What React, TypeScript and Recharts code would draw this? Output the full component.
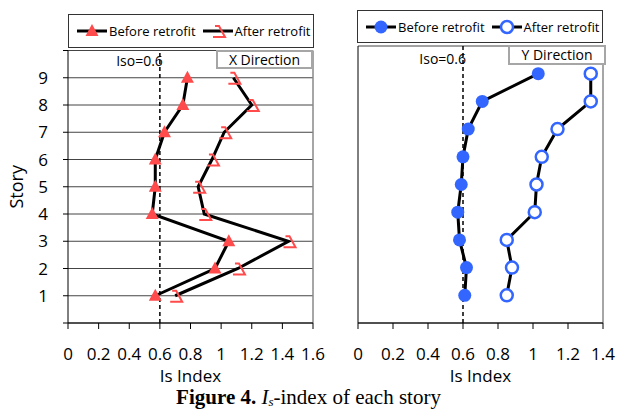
import React from "react";
import {
  LineChart,
  Line,
  XAxis,
  YAxis,
  CartesianGrid,
  ReferenceLine,
} from "recharts";

// stories 1..9 (bottom to top)
const STORIES = [1, 2, 3, 4, 5, 6, 7, 8, 9];

// X direction Is index
const X_BEFORE = [0.57, 0.96, 1.05, 0.55, 0.57, 0.57, 0.63, 0.75, 0.78];
const X_AFTER = [0.7, 1.11, 1.44, 0.89, 0.85, 0.94, 1.02, 1.2, 1.08];

// Y direction Is index
const Y_BEFORE = [0.61, 0.62, 0.58, 0.57, 0.59, 0.6, 0.63, 0.71, 1.03];
const Y_AFTER = [0.85, 0.88, 0.85, 1.01, 1.02, 1.05, 1.14, 1.33, 1.33];

const STORY_TICKS = [0, 1, 2, 3, 4, 5, 6, 7, 8, 9, 10];
const X_TICKS = [0, 0.2, 0.4, 0.6, 0.8, 1, 1.2, 1.4, 1.6];
const Y_DIR_TICKS = [0, 0.2, 0.4, 0.6, 0.8, 1, 1.2, 1.4];
const ISO = 0.6;

const RED = "#FF4B4B";
const BLUE = "#3366FF";
const FONT = "'Open Sans', sans-serif";

const xData = STORIES.map((s, i) => ({ story: s, before: X_BEFORE[i], after: X_AFTER[i] }));
const yData = STORIES.map((s, i) => ({ story: s, before: Y_BEFORE[i], after: Y_AFTER[i] }));

function FilledTri({ cx, cy }: { cx: number; cy: number }) {
  return (
    <path
      d={`M${cx},${cy - 7} L${cx + 6.5},${cy + 5} L${cx - 6.5},${cy + 5} Z`}
      fill={RED}
    />
  );
}

function OpenTri({ cx, cy }: { cx: number; cy: number }) {
  return (
    <path
      d={`M${cx - 3},${cy - 5} L${cx + 1},${cy - 5} L${cx + 7},${cy + 6} L${cx - 5},${cy + 6}`}
      fill="none"
      stroke={RED}
      strokeWidth={2}
    />
  );
}

function FilledDot({ cx, cy }: { cx: number; cy: number }) {
  return <circle cx={cx} cy={cy} r={6.5} fill={BLUE} />;
}

function OpenDot({ cx, cy }: { cx: number; cy: number }) {
  return <circle cx={cx} cy={cy} r={6} fill="#fff" stroke={BLUE} strokeWidth={2.5} />;
}

function isoLabel(dy: number) {
  return (p: any) => {
    const vb = p.viewBox || {};
    return (
      <text
        x={vb.x + 3}
        y={vb.y + dy}
        textAnchor="end"
        fontSize={14}
        fill="#000"
        fontFamily={FONT}
      >
        Iso=0.6
      </text>
    );
  };
}

function LegendBox({
  left,
  top,
  width,
  height,
  items,
}: {
  left: number;
  top: number;
  width: number;
  height: number;
  items: { label: string; marker: (cx: number, cy: number) => React.ReactNode }[];
}) {
  return (
    <div
      style={{
        position: "absolute",
        left,
        top,
        width,
        height,
        boxSizing: "border-box",
        border: "1px solid #333",
        background: "#fff",
        display: "flex",
        alignItems: "center",
        paddingLeft: 8,
        fontSize: 13,
        fontFamily: FONT,
      }}
    >
      {items.map((it, i) => (
        <div key={it.label} style={{ display: "flex", alignItems: "center", marginLeft: i ? 7 : 0 }}>
          <svg width={30} height={16} style={{ marginRight: 2 }}>
            <line x1={0} y1={8} x2={30} y2={8} stroke="#000" strokeWidth={3} />
            {it.marker(15, 8)}
          </svg>
          <span>{it.label}</span>
        </div>
      ))}
    </div>
  );
}

function DirBox({ left, top, width, height, text }: { left: number; top: number; width: number; height: number; text: string }) {
  return (
    <div
      style={{
        position: "absolute",
        left,
        top,
        width,
        height,
        boxSizing: "border-box",
        border: "2px solid #a6a6a6",
        background: "#fff",
        fontSize: 14,
        fontFamily: FONT,
        lineHeight: `${height - 4}px`,
        textAlign: "center",
      }}
    >
      {text}
    </div>
  );
}

const tickStyle = { fill: "#000", fontSize: 17, fontFamily: FONT };

export default function App() {
  return (
    <div
      style={{
        position: "absolute",
        left: 0,
        top: 0,
        width: 617,
        height: 410,
        background: "#fff",
        fontFamily: FONT,
        overflow: "hidden",
      }}
    >
      {/* X direction */}
      <div style={{ position: "absolute", left: 0, top: 0 }}>
        <LineChart
          width={330}
          height={390}
          data={xData}
          layout="vertical"
          margin={{ top: 50.5, right: 17, bottom: 7, left: 8 }}
        >
          <CartesianGrid horizontal vertical={false} stroke="#444" strokeWidth={1} />
          <XAxis
            type="number"
            dataKey="before"
            domain={[0, 1.6]}
            ticks={X_TICKS}
            interval={0}
            tick={tickStyle}
            tickSize={6}
            tickMargin={19}
            height={60}
            axisLine={{ stroke: "#000" }}
            tickLine={{ stroke: "#000" }}
            label={{ value: "Is Index", position: "insideBottom", offset: 1, fill: "#000", fontSize: 17 }}
          />
          <YAxis
            type="number"
            dataKey="story"
            domain={[0, 10]}
            ticks={STORY_TICKS}
            interval={0}
            reversed
            width={60}
            tick={tickStyle}
            tickFormatter={(v) => (v === 0 || v === 10 ? "" : String(v))}
            tickSize={5}
            tickMargin={15}
            axisLine={{ stroke: "#000" }}
            tickLine={{ stroke: "#000" }}
            label={{
              value: "Story",
              angle: -90,
              position: "insideLeft",
              offset: 9,
              fill: "#000",
              fontSize: 18,
              style: { textAnchor: "middle" },
            }}
          />
          <ReferenceLine x={1.6} stroke="#888" strokeWidth={1.5} />
          <ReferenceLine
            x={ISO}
            stroke="#000"
            strokeWidth={1.5}
            strokeDasharray="4 3"
            label={{ content: isoLabel(15) } as any}
          />
          <Line
            dataKey="after"
            stroke="#000"
            strokeWidth={3}
            isAnimationActive={false}
            dot={(p: any) => <OpenTri key={`xa${p.index}`} cx={p.cx} cy={p.cy} />}
          />
          <Line
            dataKey="before"
            stroke="#000"
            strokeWidth={3}
            isAnimationActive={false}
            dot={(p: any) => <FilledTri key={`xb${p.index}`} cx={p.cx} cy={p.cy} />}
          />
        </LineChart>
      </div>

      {/* Y direction */}
      <div style={{ position: "absolute", left: 330, top: 0 }}>
        <LineChart
          width={287}
          height={390}
          data={yData}
          layout="vertical"
          margin={{ top: 46, right: 14, bottom: 7, left: 8 }}
        >
          <CartesianGrid horizontal vertical={false} stroke="#444" strokeWidth={1} />
          <XAxis
            type="number"
            dataKey="before"
            domain={[0, 1.4]}
            ticks={Y_DIR_TICKS}
            interval={0}
            tick={tickStyle}
            tickSize={6}
            tickMargin={19}
            height={60}
            axisLine={{ stroke: "#000" }}
            tickLine={{ stroke: "#000" }}
            label={{ value: "Is Index", position: "insideBottom", offset: 1, fill: "#000", fontSize: 17 }}
          />
          <YAxis
            type="number"
            dataKey="story"
            domain={[0, 10]}
            ticks={STORY_TICKS}
            interval={0}
            reversed
            width={20}
            tick={false}
            tickSize={5}
            axisLine={{ stroke: "#000" }}
            tickLine={{ stroke: "#000" }}
          />
          <ReferenceLine x={1.4} stroke="#888" strokeWidth={1.5} />
          <ReferenceLine
            x={ISO}
            stroke="#000"
            strokeWidth={1.5}
            strokeDasharray="4 3"
            label={{ content: isoLabel(18) } as any}
          />
          <Line
            dataKey="after"
            stroke="#000"
            strokeWidth={3}
            isAnimationActive={false}
            dot={(p: any) => <OpenDot key={`ya${p.index}`} cx={p.cx} cy={p.cy} />}
          />
          <Line
            dataKey="before"
            stroke="#000"
            strokeWidth={3}
            isAnimationActive={false}
            dot={(p: any) => <FilledDot key={`yb${p.index}`} cx={p.cx} cy={p.cy} />}
          />
        </LineChart>
      </div>

      <LegendBox
        left={68}
        top={14}
        width={246}
        height={34}
        items={[
          { label: "Before retrofit", marker: (cx, cy) => <FilledTri cx={cx} cy={cy} /> },
          { label: "After retrofit", marker: (cx, cy) => <OpenTri cx={cx} cy={cy} /> },
        ]}
      />
      <LegendBox
        left={357}
        top={10}
        width={246}
        height={33}
        items={[
          { label: "Before retrofit", marker: (cx, cy) => <FilledDot cx={cx} cy={cy} /> },
          { label: "After retrofit", marker: (cx, cy) => <OpenDot cx={cx} cy={cy} /> },
        ]}
      />
      <DirBox left={216} top={50} width={97} height={19} text="X Direction" />
      <DirBox left={508} top={45} width={98} height={20} text="Y Direction" />

      <div
        style={{
          position: "absolute",
          left: 0,
          top: 388,
          width: 617,
          textAlign: "center",
          fontFamily: "'Liberation Serif', 'Times New Roman', serif",
          fontSize: 21,
          lineHeight: "19px",
          color: "#000",
        }}
      >
        <b>Figure 4.</b> <i>I</i>
        <span style={{ fontSize: 13, fontStyle: "italic", verticalAlign: "-2px", lineHeight: 0 }}>s</span>-index of each story
      </div>
    </div>
  );
}
